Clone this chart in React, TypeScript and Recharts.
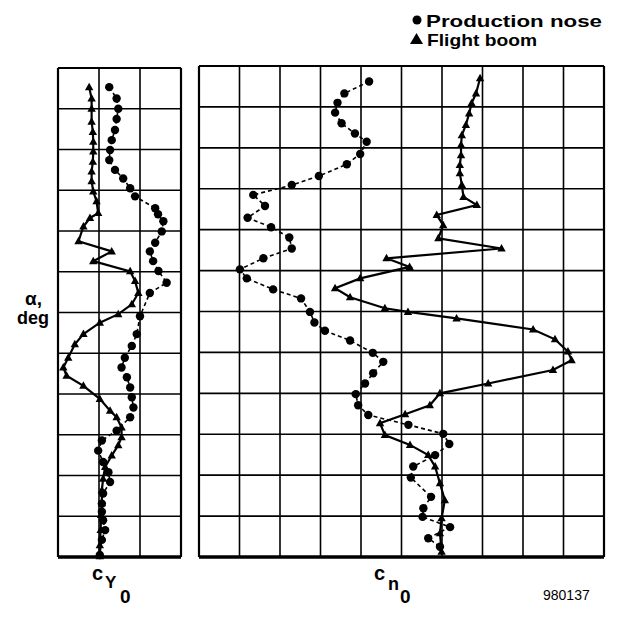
import { ScatterChart, Scatter, XAxis, YAxis, ReferenceLine } from "recharts";

// alpha is read in grid rows (0 = bottom edge, 12 = top edge)
const alphaTicks = [0, 1, 2, 3, 4, 5, 6, 7, 8, 9, 10, 11, 12];
const cyTicks = [0, 1, 2, 3];
const cnTicks = [0, 1, 2, 3, 4, 5, 6, 7, 8, 9, 10];

// C_Y0, production nose
const cyNoseAlpha = [11.53, 11.25, 11.0, 10.75, 10.48, 10.23, 9.99, 9.74, 9.5, 9.29, 9.05, 8.85, 8.56, 8.41, 8.24, 7.99, 7.71, 7.5, 7.26, 7.02, 6.73, 6.48, 5.91, 5.47, 5.18, 4.89, 4.65, 4.41, 4.16, 3.92, 3.67, 3.43, 3.1, 2.86, 2.61, 2.33, 2.08, 1.84, 1.56, 1.31, 1.11, 0.9, 0.66, 0.42, 0.05];
const cyNoseValue = [1.25, 1.43, 1.47, 1.43, 1.39, 1.31, 1.27, 1.25, 1.39, 1.59, 1.76, 1.88, 2.37, 2.44, 2.57, 2.53, 2.37, 2.24, 2.32, 2.45, 2.65, 2.24, 2.0, 1.92, 1.8, 1.63, 1.55, 1.68, 1.76, 1.8, 1.84, 1.76, 1.43, 1.07, 0.98, 1.1, 1.23, 1.27, 1.1, 1.07, 1.07, 1.1, 1.15, 1.07, 1.02];

// C_Y0, flight boom
const cyBoomAlpha = [11.53, 11.25, 11.0, 10.68, 10.43, 10.19, 9.95, 9.7, 9.46, 9.22, 8.97, 8.73, 8.44, 8.32, 8.11, 7.75, 7.5, 7.26, 7.01, 6.77, 6.48, 6.2, 5.96, 5.75, 5.47, 5.22, 4.89, 4.65, 4.45, 4.2, 3.88, 3.59, 3.43, 3.18, 2.94, 2.74, 2.49, 2.21, 1.92, 1.64, 1.32, 1.03, 0.66, 0.29, 0.02];
const cyBoomValue = [0.76, 0.82, 0.82, 0.82, 0.85, 0.86, 0.86, 0.85, 0.82, 0.82, 0.86, 0.94, 0.98, 0.78, 0.62, 0.5, 1.31, 0.86, 1.76, 1.88, 1.96, 1.8, 1.47, 1.02, 0.62, 0.41, 0.25, 0.13, 0.21, 0.62, 1.02, 1.27, 1.43, 1.55, 1.55, 1.47, 1.31, 1.15, 1.1, 1.07, 1.07, 1.05, 1.04, 1.02, 1.02];

// C_n0, production nose
const cnNoseAlpha = [11.62, 11.33, 11.1, 10.86, 10.6, 10.35, 10.15, 9.85, 9.6, 9.31, 9.09, 8.85, 8.58, 8.29, 8.06, 7.81, 7.54, 7.3, 7.03, 6.81, 6.54, 6.32, 5.99, 5.73, 5.53, 5.29, 4.99, 4.77, 4.49, 4.24, 3.98, 3.71, 3.47, 3.23, 3.01, 2.76, 2.49, 2.21, 1.94, 1.47, 1.19, 0.98, 0.73, 0.46, 0.25];
const cnNoseValue = [4.2, 3.59, 3.42, 3.36, 3.52, 3.85, 4.14, 3.98, 3.65, 2.96, 2.29, 1.34, 1.63, 1.2, 1.78, 2.23, 2.29, 1.59, 1.01, 1.18, 1.83, 2.52, 2.74, 2.85, 3.11, 3.73, 4.29, 4.55, 4.3, 4.1, 3.87, 3.93, 4.18, 5.17, 6.03, 6.18, 5.83, 5.29, 5.23, 5.73, 5.54, 5.52, 6.2, 5.66, 5.95];

// C_n0, flight boom
const cnBoomAlpha = [11.7, 11.33, 11.09, 10.84, 10.56, 10.31, 10.07, 9.82, 9.58, 9.38, 9.09, 8.8, 8.6, 8.36, 8.11, 7.79, 7.54, 7.3, 7.09, 6.81, 6.57, 6.35, 6.08, 5.99, 5.83, 5.56, 5.32, 5.02, 4.81, 4.57, 4.24, 4.0, 3.71, 3.49, 3.27, 2.98, 2.74, 2.49, 2.21, 1.8, 1.39, 0.95, 0.58, 0.13];
const cnBoomValue = [6.94, 6.84, 6.73, 6.67, 6.59, 6.49, 6.47, 6.47, 6.44, 6.44, 6.49, 6.53, 6.86, 5.87, 6.03, 5.91, 7.47, 4.63, 5.2, 3.98, 3.36, 3.73, 4.59, 5.16, 6.36, 8.25, 8.79, 9.11, 9.2, 8.74, 7.14, 5.95, 5.7, 5.09, 4.47, 4.59, 5.21, 5.66, 5.83, 5.95, 6.07, 5.99, 5.95, 5.99];

const toPoints = (xs: number[], ys: number[]) => xs.map((x, i) => ({ x, y: ys[i] }));

const Dot = (p: any) => <circle cx={p.cx} cy={p.cy} r={4.2} fill="#000" />;
const Tri = (p: any) => (
  <polygon
    points={`${p.cx - 4.2},${p.cy + 3} ${p.cx + 4.2},${p.cy + 3} ${p.cx},${p.cy - 4.5}`}
    fill="#000"
  />
);

interface PanelProps {
  margin: { left: number; right: number; top: number; bottom: number };
  xTicks: number[];
  nose: { x: number; y: number }[];
  boom: { x: number; y: number }[];
}

function Panel({ margin, xTicks, nose, boom }: PanelProps) {
  const xMax = xTicks[xTicks.length - 1];
  const edgeX = (v: number) => v === 0 || v === xMax;
  return (
    <div style={{ position: "absolute", left: 0, top: 0 }}>
      <ScatterChart width={619} height={619} margin={margin}>
        <XAxis type="number" dataKey="x" domain={[0, xMax]} ticks={xTicks} tick={false} tickLine={false} axisLine={false} height={0} />
        <YAxis type="number" dataKey="y" domain={[0, 12]} ticks={alphaTicks} tick={false} tickLine={false} axisLine={false} width={0} />
        {xTicks.map((v) => (
          <ReferenceLine key={`x${v}`} x={v} stroke="#000" strokeWidth={edgeX(v) ? 2.2 : 1.6} />
        ))}
        {alphaTicks.map((v) => (
          <ReferenceLine key={`y${v}`} y={v} stroke="#000" strokeWidth={v === 0 ? 3.5 : v === 12 ? 2.2 : 1.6} />
        ))}
        <Scatter
          data={nose}
          fill="#000"
          line={{ stroke: "#000", strokeWidth: 1.6, strokeDasharray: "4 3" }}
          lineJointType="linear"
          shape={Dot}
          isAnimationActive={false}
        />
        <Scatter
          data={boom}
          fill="#000"
          line={{ stroke: "#000", strokeWidth: 2.2 }}
          lineJointType="linear"
          shape={Tri}
          isAnimationActive={false}
        />
      </ScatterChart>
    </div>
  );
}

const font = "'Liberation Sans', Arial, sans-serif";

export default function App() {
  return (
    <div style={{ position: "absolute", left: 0, top: 0, width: 619, height: 619, background: "#fff" }}>
      <Panel
        margin={{ left: 58, right: 619 - 181, top: 68, bottom: 619 - 557 }}
        xTicks={cyTicks}
        nose={toPoints(cyNoseValue, cyNoseAlpha)}
        boom={toPoints(cyBoomValue, cyBoomAlpha)}
      />
      <Panel
        margin={{ left: 199, right: 619 - 604, top: 66, bottom: 619 - 557 }}
        xTicks={cnTicks}
        nose={toPoints(cnNoseValue, cnNoseAlpha)}
        boom={toPoints(cnBoomValue, cnBoomAlpha)}
      />
      <svg width={619} height={619} style={{ position: "absolute", left: 0, top: 0, pointerEvents: "none" }}>
        <g fontFamily={font} fontWeight="bold" fill="#000">
          <circle cx={417} cy={20} r={4.5} />
          <text x={426} y={26.5} fontSize={17} textLength={176} lengthAdjust="spacingAndGlyphs">Production nose</text>
          <polygon points="410,44 423,44 416.5,33" />
          <text x={427} y={45.5} fontSize={17} textLength={110} lengthAdjust="spacingAndGlyphs">Flight boom</text>
          <text x={25} y={305} fontSize={19}>α,</text>
          <text x={17} y={324} fontSize={18}>deg</text>
          <text x={92} y={580} fontSize={20}>c</text>
          <text x={105} y={588} fontSize={17}>Y</text>
          <text x={120} y={603} fontSize={19}>0</text>
          <text x={374} y={580} fontSize={20}>c</text>
          <text x={388} y={590} fontSize={18}>n</text>
          <text x={400} y={603} fontSize={19}>0</text>
        </g>
        <text x={543} y={600} fontFamily={font} fontSize={14} fill="#000">980137</text>
      </svg>
    </div>
  );
}
